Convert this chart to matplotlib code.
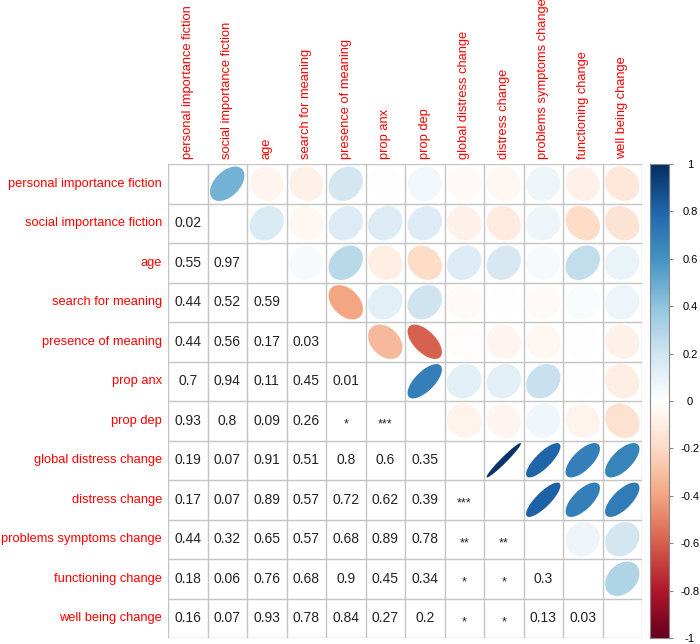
import numpy as np
import matplotlib
matplotlib.use("Agg")
from matplotlib import pyplot as plt
from matplotlib.colors import LinearSegmentedColormap

plt.rcParams["font.family"] = ["Liberation Sans", "DejaVu Sans"]

labels = [
    "personal importance fiction", "social importance fiction", "age",
    "search for meaning", "presence of meaning", "prop anx", "prop dep",
    "global distress change", "distress change", "problems symptoms change",
    "functioning change", "well being change",
]

# upper triangle correlations, row by row (columns to the right of the diagonal)
corr_upper = [
    [0.47, -0.06, -0.08, 0.18, -0.01, 0.05, -0.03, -0.05, 0.07, -0.08, -0.14],
    [0.16, -0.05, 0.15, 0.14, 0.14, -0.08, -0.12, 0.07, -0.2, -0.16],
    [0.03, 0.27, -0.1, -0.2, 0.15, 0.17, 0.03, 0.24, 0.09],
    [-0.4, 0.12, 0.2, -0.03, 0.0, -0.03, 0.02, 0.07],
    [-0.33, -0.6, -0.02, -0.06, -0.05, 0.0, -0.08],
    [0.68, 0.12, 0.12, 0.22, 0.0, -0.1],
    [-0.07, -0.06, 0.06, -0.07, -0.17],
    [0.97, 0.8, 0.68, 0.66],
    [0.82, 0.68, 0.7],
    [0.07, 0.18],
    [0.3],
]

# lower triangle p-value labels, row by row (columns left of the diagonal)
p_lower = [
    [],
    ["0.02"],
    ["0.55", "0.97"],
    ["0.44", "0.52", "0.59"],
    ["0.44", "0.56", "0.17", "0.03"],
    ["0.7", "0.94", "0.11", "0.45", "0.01"],
    ["0.93", "0.8", "0.09", "0.26", "*", "***"],
    ["0.19", "0.07", "0.91", "0.51", "0.8", "0.6", "0.35"],
    ["0.17", "0.07", "0.89", "0.57", "0.72", "0.62", "0.39", "***"],
    ["0.44", "0.32", "0.65", "0.57", "0.68", "0.89", "0.78", "**", "**"],
    ["0.18", "0.06", "0.76", "0.68", "0.9", "0.45", "0.34", "*", "*", "0.3"],
    ["0.16", "0.07", "0.93", "0.78", "0.84", "0.27", "0.2", "*", "*", "0.13", "0.03"],
]

cbar_ticks = [-1, -0.8, -0.6, -0.4, -0.2, 0, 0.2, 0.4, 0.6, 0.8, 1]

rdbu = ["#67001F", "#B2182B", "#D6604D", "#F4A582", "#FDDBC7", "#FFFFFF",
        "#D1E5F0", "#92C5DE", "#4393C3", "#2166AC", "#053061"]
cmap = LinearSegmentedColormap.from_list("corr_rdbu", rdbu, N=200)

W, H = 700, 644
fig = plt.figure(figsize=(W / 100, H / 100), dpi=100)
n = len(labels)
x0, x1, y0, y1 = 168, 642, 164, 638
ax = fig.add_axes([x0 / W, 1 - y1 / H, (x1 - x0) / W, (y1 - y0) / H])
ax.set_xlim(0, n)
ax.set_ylim(n, 0)
ax.axis("off")

# grid
for k in range(n + 1):
    ax.plot([k, k], [0, n], color="#c4c4c4", lw=1, zorder=1)
    ax.plot([0, n], [k, k], color="#c4c4c4", lw=1, zorder=1)


def ellipse_pts(rho, length=99):
    t = np.linspace(0, 2 * np.pi, length)
    a = np.arccos(rho) / 2
    return np.cos(t + a) / 2, np.cos(t - a) / 2


scale = 0.87
for i, row in enumerate(corr_upper):
    for k, r in enumerate(row):
        j = i + 1 + k
        ex, ey = ellipse_pts(r)
        ax.fill(j + 0.5 + ex * scale, i + 0.5 - ey * scale,
                color=cmap((r + 1) / 2), lw=0, zorder=2)

for i, row in enumerate(p_lower):
    for j, txt in enumerate(row):
        star = txt.startswith("*")
        ax.text(j + 0.5, i + 0.5 + (0.1 if star else 0), txt,
                ha="center", va="center", fontsize=9 if star else 10,
                color="#222222", zorder=3)

for i, lab in enumerate(labels):
    ax.text(-0.15, i + 0.5, lab, ha="right", va="center", fontsize=9.25,
            color="red", clip_on=False)
    ax.text(i + 0.5, -0.12, lab, ha="center", va="bottom", rotation=90,
            fontsize=9.25, color="red", clip_on=False)

# colour legend
cx0, cx1 = 650, 669
cax = fig.add_axes([cx0 / W, 1 - y1 / H, (cx1 - cx0) / W, (y1 - y0) / H])
grad = np.linspace(1, -1, 200).reshape(-1, 1)
cax.imshow(grad, cmap=cmap, vmin=-1, vmax=1, aspect="auto",
           extent=[0, 1, -1, 1])
cax.set_xlim(0, 1)
cax.set_ylim(-1, 1)
cax.set_xticks([])
cax.yaxis.tick_right()
cax.set_yticks(cbar_ticks)
cax.set_yticklabels([f"{v:g}" for v in cbar_ticks], fontsize=8, ha="center")
cax.tick_params(axis="y", length=3, color="#888888", pad=12)
for s in cax.spines.values():
    s.set_color("#888888")
    s.set_linewidth(0.8)

fig.savefig("out.png", dpi=100)
